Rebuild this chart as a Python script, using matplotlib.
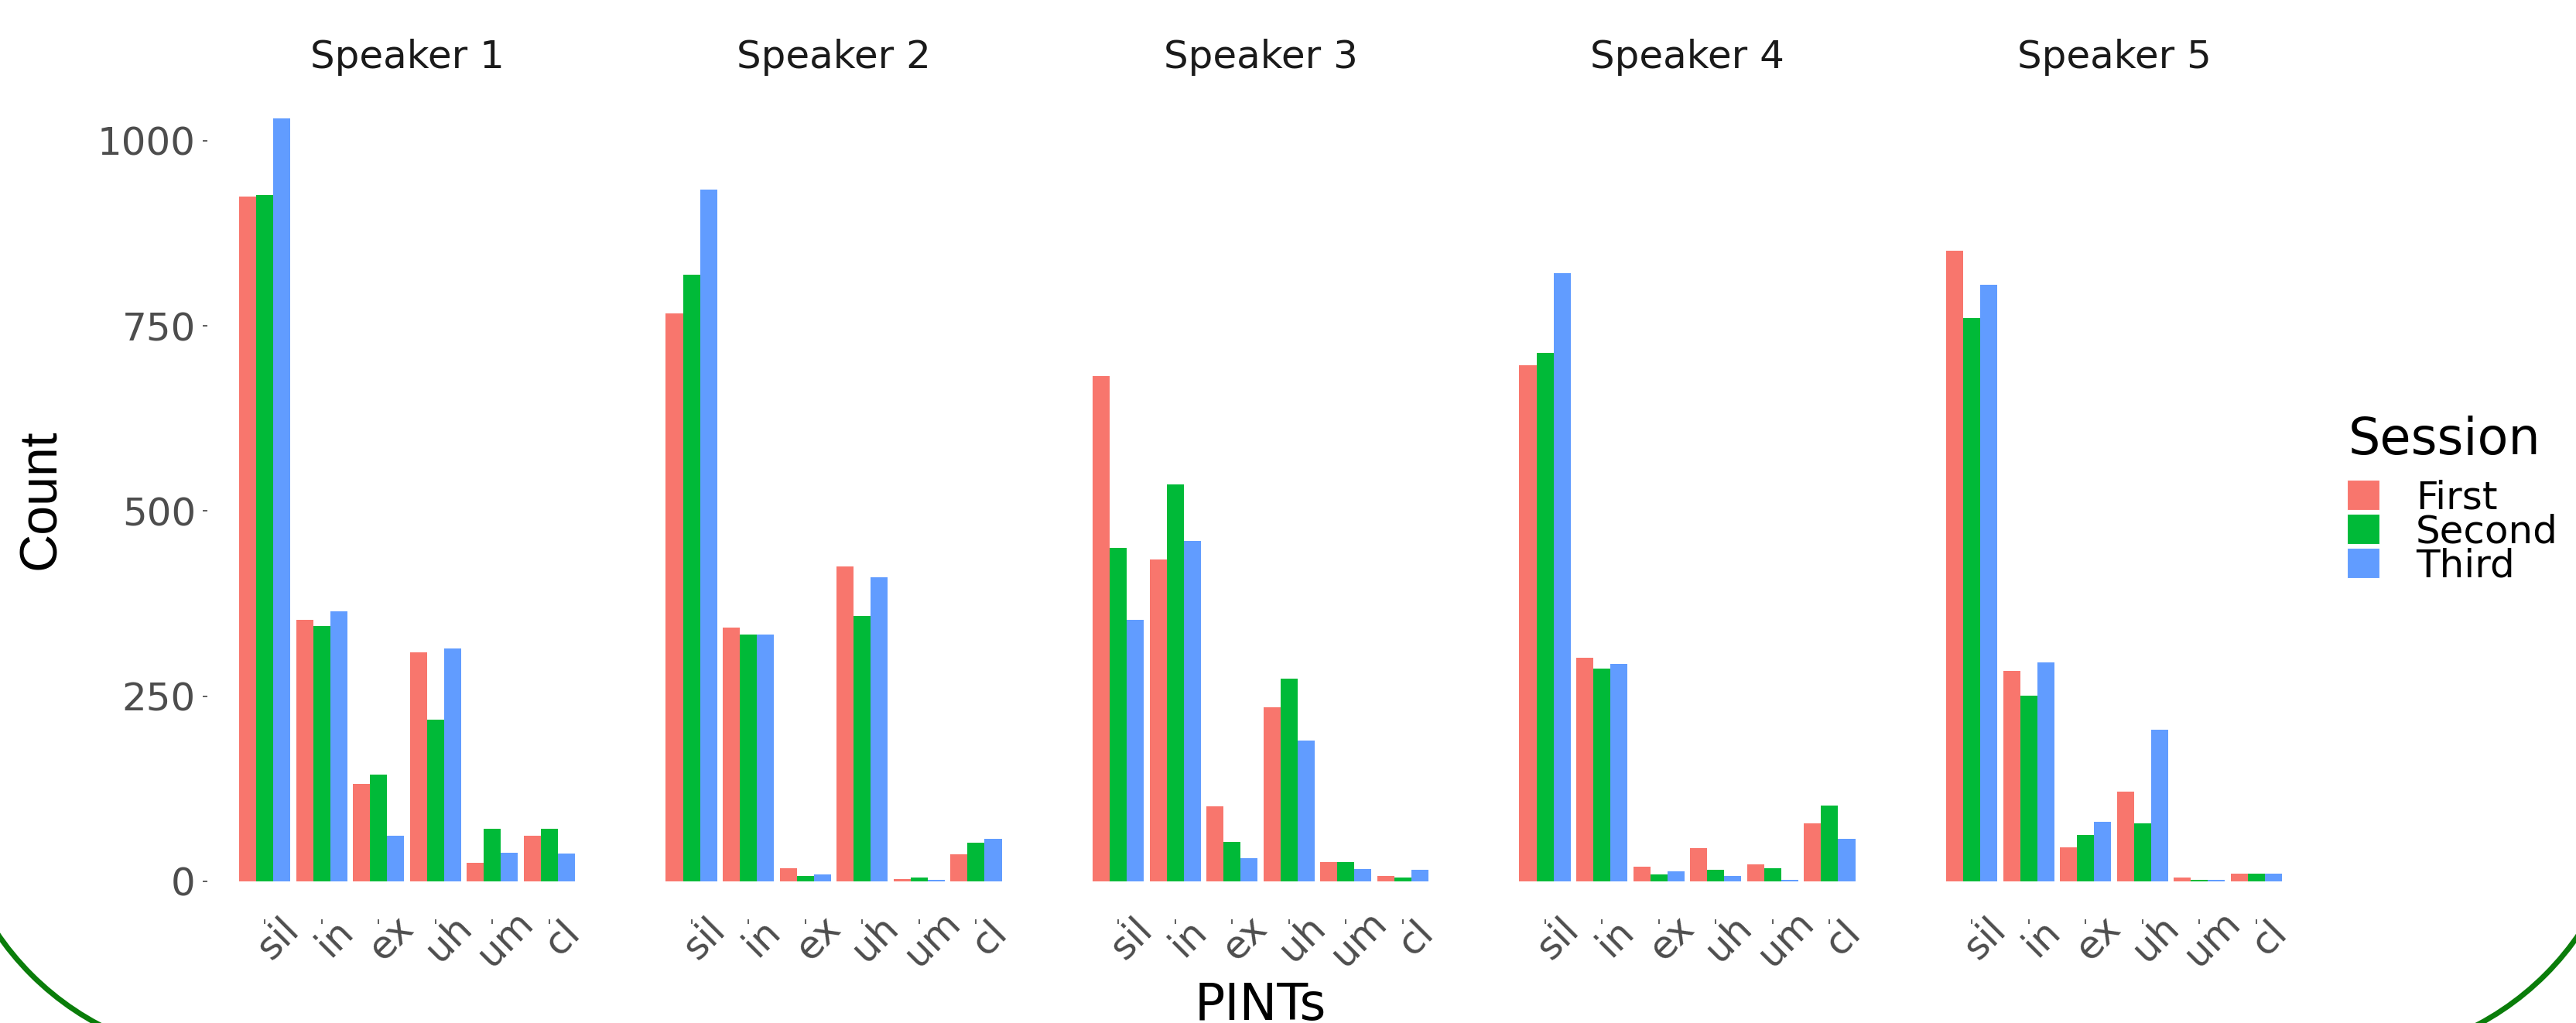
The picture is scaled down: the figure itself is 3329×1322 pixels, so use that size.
import matplotlib
matplotlib.use("Agg")
import matplotlib.pyplot as plt
from matplotlib.patches import Arc, Patch
from matplotlib.transforms import IdentityTransform
import numpy as np

# pause categories and speakers
PINTS = ["sil", "in", "ex", "uh", "um", "cl"]
SPEAKERS = ["Speaker 1", "Speaker 2", "Speaker 3", "Speaker 4", "Speaker 5"]
SESSIONS = ["First", "Second", "Third"]

# counts per speaker (rows) and PINT (columns), one list per session
first_counts = [
    [925, 353, 131, 309, 25, 61],
    [767, 343, 18, 425, 3, 36],
    [682, 435, 101, 235, 26, 7],
    [697, 302, 20, 45, 23, 78],
    [852, 284, 46, 121, 5, 10],
]
second_counts = [
    [927, 345, 144, 218, 71, 71],
    [819, 333, 7, 358, 5, 52],
    [450, 536, 53, 274, 26, 5],
    [714, 287, 9, 15, 17, 102],
    [761, 251, 62, 78, 2, 10],
]
third_counts = [
    [1030, 365, 61, 314, 38, 37],
    [934, 333, 9, 410, 2, 57],
    [353, 460, 31, 190, 16, 15],
    [821, 293, 13, 7, 2, 57],
    [806, 295, 80, 205, 2, 10],
]
y_ticks = [0, 250, 500, 750, 1000]

COLORS = ["#F8766D", "#00BA38", "#619CFF"]
FONT = "DejaVu Sans"

W, H = 3330, 1322
fig = plt.figure(figsize=(W / 100, H / 100), dpi=100)

# panel geometry in pixels
ax_left0 = 268
ax_step = 551.5
ax_w = 516
ax_top = 104
ax_bot = 1188

all_counts = [first_counts, second_counts, third_counts]
ymax = max(max(max(r) for r in c) for c in all_counts)
ylim = (-0.05 * ymax, 1.05 * ymax)

x = np.arange(len(PINTS))
bar_w = 0.3

for i, spk in enumerate(SPEAKERS):
    ax = fig.add_axes([(ax_left0 + ax_step * i) / W, 1 - ax_bot / H,
                       ax_w / W, (ax_bot - ax_top) / H])
    for s, counts in enumerate(all_counts):
        ax.bar(x + (s - 1) * bar_w, counts[i], width=bar_w,
               color=COLORS[s], linewidth=0)
    ax.set_xlim(-1.007, 6.007)
    ax.set_ylim(*ylim)
    for sp in ax.spines.values():
        sp.set_visible(False)
    ax.set_xticks(x)
    ax.set_xticklabels(PINTS, rotation=45, ha="center", va="top",
                       rotation_mode="anchor", family=FONT, fontsize=36,
                       color="#4d4d4d")
    ax.tick_params(axis="x", length=4.3, width=1.1, color="#333333", pad=1)
    if i == 0:
        ax.set_yticks(y_ticks)
        ax.set_yticklabels([str(v) for v in y_ticks], family=FONT,
                           fontsize=36, color="#4d4d4d")
        ax.tick_params(axis="y", length=4.3, width=1.1, color="#333333",
                       pad=6.5)
    else:
        ax.set_yticks([])
    ax.set_title(spk, family=FONT, fontsize=36, color="#1a1a1a", pad=11.5)

fig.text(53 / W, 1 - 645 / H, "Count", rotation=90, ha="center",
         va="center", fontsize=49,
         family=["Liberation Sans Narrow", "Liberation Sans"])
fig.text(1629 / W, 1 - 1318 / H, "PINTs", ha="center", va="baseline",
         family=FONT, fontsize=47)

# legend: title as its own text, keys below it
fig.text(3035 / W, 1 - 587 / H, "Session", ha="left", va="baseline",
         family=FONT, fontsize=47)
handles = [Patch(facecolor=c, edgecolor="white", linewidth=0.8)
           for c in COLORS]
leg = fig.legend(handles, SESSIONS, loc="upper left",
                 bbox_to_anchor=(3033 / W, 1 - 619 / H), frameon=False,
                 prop={"family": FONT, "size": 36},
                 handlelength=0.84, handleheight=0.84, handletextpad=0.94,
                 labelspacing=-0.08, borderpad=0, borderaxespad=0)

# green rounded frame corners of the slide (pixel coordinates)
r = 367
for cx, t1, t2 in [(300, 180, 270), (W - 300, 270, 360)]:
    arc = Arc((cx, H - 1000), 2 * r, 2 * r, theta1=t1, theta2=t2,
              transform=IdentityTransform(), color="#0a7d0a",
              linewidth=5, clip_on=False)
    fig.add_artist(arc)

fig.savefig("out.png", dpi=100)
